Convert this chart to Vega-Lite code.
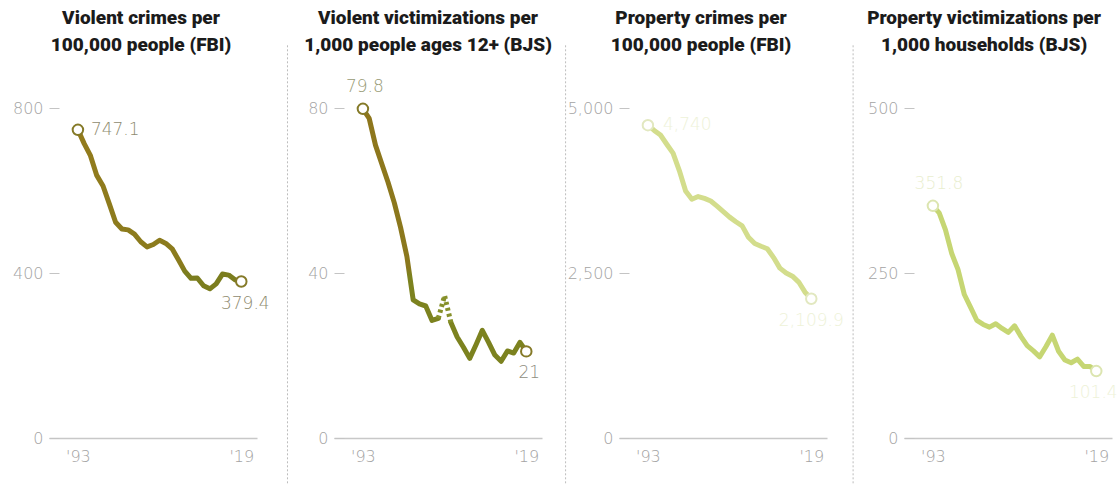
{
  "$schema": "https://vega.github.io/schema/vega-lite/v6.json",
  "background": "white",
  "padding": {"left": 12, "top": 8, "right": 0, "bottom": 0},
  "bounds": "flush",
  "spacing": 77,
  "config": {
    "view": {"stroke": null},
    "axis": {"grid": false, "labelFont": "DejaVu Sans", "labelFontWeight": 200, "labelFontSize": 16, "labelColor": "#a3a3a3", "title": null},
    "title": {"font": "Roboto", "fontSize": 19, "fontWeight": 900, "color": "#1b1b1b", "lineHeight": 27, "anchor": "middle", "frame": "group", "offset": -10},
    "text": {"font": "DejaVu Sans", "fontWeight": 200, "fontSize": 17}
  },
  "datasets": {
    "p1": [
      {"kind": "sep", "year": 2000, "value": 952, "value2": -112},
      {"kind": "line", "part": "a", "year": 1993, "value": 747.1, "label": "747.1", "end": "start"},
      {"kind": "line", "part": "a", "year": 1994, "value": 713.6},
      {"kind": "line", "part": "a", "year": 1995, "value": 684.5},
      {"kind": "line", "part": "a", "year": 1996, "value": 636.6},
      {"kind": "line", "part": "a", "year": 1997, "value": 611.0},
      {"kind": "line", "part": "a", "year": 1998, "value": 567.6},
      {"kind": "line", "part": "a", "year": 1999, "value": 523.0},
      {"kind": "line", "part": "a", "year": 2000, "value": 506.5},
      {"kind": "line", "part": "a", "year": 2001, "value": 504.5},
      {"kind": "line", "part": "a", "year": 2002, "value": 494.4},
      {"kind": "line", "part": "a", "year": 2003, "value": 475.8},
      {"kind": "line", "part": "a", "year": 2004, "value": 463.2},
      {"kind": "line", "part": "a", "year": 2005, "value": 469.0},
      {"kind": "line", "part": "a", "year": 2006, "value": 479.3},
      {"kind": "line", "part": "a", "year": 2007, "value": 471.8},
      {"kind": "line", "part": "a", "year": 2008, "value": 458.6},
      {"kind": "line", "part": "a", "year": 2009, "value": 431.9},
      {"kind": "line", "part": "a", "year": 2010, "value": 404.5},
      {"kind": "line", "part": "a", "year": 2011, "value": 387.1},
      {"kind": "line", "part": "a", "year": 2012, "value": 387.8},
      {"kind": "line", "part": "a", "year": 2013, "value": 369.1},
      {"kind": "line", "part": "a", "year": 2014, "value": 361.6},
      {"kind": "line", "part": "a", "year": 2015, "value": 373.7},
      {"kind": "line", "part": "a", "year": 2016, "value": 397.5},
      {"kind": "line", "part": "a", "year": 2017, "value": 394.9},
      {"kind": "line", "part": "a", "year": 2018, "value": 383.4},
      {"kind": "line", "part": "a", "year": 2019, "value": 379.4, "label": "379.4", "end": "end"}
    ],
    "p2": [
      {"kind": "sep", "year": 1981, "value": 95.2, "value2": -11.2},
      {"kind": "line", "part": "a", "year": 1993, "value": 79.8, "label": "79.8", "end": "start"},
      {"kind": "line", "part": "a", "year": 1994, "value": 77.5},
      {"kind": "line", "part": "a", "year": 1995, "value": 71.0},
      {"kind": "line", "part": "a", "year": 1996, "value": 66.5},
      {"kind": "line", "part": "a", "year": 1997, "value": 62.0},
      {"kind": "line", "part": "a", "year": 1998, "value": 57.0},
      {"kind": "line", "part": "a", "year": 1999, "value": 51.0},
      {"kind": "line", "part": "a", "year": 2000, "value": 44.0},
      {"kind": "line", "part": "a", "year": 2001, "value": 33.5},
      {"kind": "line", "part": "a", "year": 2002, "value": 32.5},
      {"kind": "line", "part": "a", "year": 2003, "value": 32.0},
      {"kind": "line", "part": "a", "year": 2004, "value": 28.5},
      {"kind": "line", "part": "a", "year": 2005, "value": 29.0},
      {"kind": "dash", "part": "b", "year": 2005, "value": 29.0},
      {"kind": "dash", "part": "b", "year": 2006, "value": 34.5},
      {"kind": "dash", "part": "b", "year": 2007, "value": 28.0},
      {"kind": "line", "part": "c", "year": 2007, "value": 28.0},
      {"kind": "line", "part": "c", "year": 2008, "value": 24.5},
      {"kind": "line", "part": "c", "year": 2009, "value": 22.0},
      {"kind": "line", "part": "c", "year": 2010, "value": 19.3},
      {"kind": "line", "part": "c", "year": 2011, "value": 22.6},
      {"kind": "line", "part": "c", "year": 2012, "value": 26.1},
      {"kind": "line", "part": "c", "year": 2013, "value": 23.2},
      {"kind": "line", "part": "c", "year": 2014, "value": 20.1},
      {"kind": "line", "part": "c", "year": 2015, "value": 18.6},
      {"kind": "line", "part": "c", "year": 2016, "value": 21.1},
      {"kind": "line", "part": "c", "year": 2017, "value": 20.6},
      {"kind": "line", "part": "c", "year": 2018, "value": 23.2},
      {"kind": "line", "part": "c", "year": 2019, "value": 21.0, "label": "21", "end": "end"}
    ],
    "p3": [
      {"kind": "sep", "year": 1979.9, "value": 5950, "value2": -697},
      {"kind": "line", "part": "a", "year": 1993, "value": 4740.0, "label": "4,740", "end": "start"},
      {"kind": "line", "part": "a", "year": 1994, "value": 4660.2},
      {"kind": "line", "part": "a", "year": 1995, "value": 4590.5},
      {"kind": "line", "part": "a", "year": 1996, "value": 4451.0},
      {"kind": "line", "part": "a", "year": 1997, "value": 4316.3},
      {"kind": "line", "part": "a", "year": 1998, "value": 4052.5},
      {"kind": "line", "part": "a", "year": 1999, "value": 3743.6},
      {"kind": "line", "part": "a", "year": 2000, "value": 3618.3},
      {"kind": "line", "part": "a", "year": 2001, "value": 3658.1},
      {"kind": "line", "part": "a", "year": 2002, "value": 3630.6},
      {"kind": "line", "part": "a", "year": 2003, "value": 3591.2},
      {"kind": "line", "part": "a", "year": 2004, "value": 3514.1},
      {"kind": "line", "part": "a", "year": 2005, "value": 3431.5},
      {"kind": "line", "part": "a", "year": 2006, "value": 3346.6},
      {"kind": "line", "part": "a", "year": 2007, "value": 3276.4},
      {"kind": "line", "part": "a", "year": 2008, "value": 3214.6},
      {"kind": "line", "part": "a", "year": 2009, "value": 3041.3},
      {"kind": "line", "part": "a", "year": 2010, "value": 2945.9},
      {"kind": "line", "part": "a", "year": 2011, "value": 2905.4},
      {"kind": "line", "part": "a", "year": 2012, "value": 2868.0},
      {"kind": "line", "part": "a", "year": 2013, "value": 2733.6},
      {"kind": "line", "part": "a", "year": 2014, "value": 2574.1},
      {"kind": "line", "part": "a", "year": 2015, "value": 2500.5},
      {"kind": "line", "part": "a", "year": 2016, "value": 2451.6},
      {"kind": "line", "part": "a", "year": 2017, "value": 2362.9},
      {"kind": "line", "part": "a", "year": 2018, "value": 2209.8},
      {"kind": "line", "part": "a", "year": 2019, "value": 2109.9, "label": "2,109.9", "end": "end"}
    ],
    "p4": [
      {"kind": "sep", "year": 1980.3, "value": 595, "value2": -69.7},
      {"kind": "line", "part": "a", "year": 1993, "value": 351.8, "label": "351.8", "end": "start"},
      {"kind": "line", "part": "a", "year": 1994, "value": 341.2},
      {"kind": "line", "part": "a", "year": 1995, "value": 315.5},
      {"kind": "line", "part": "a", "year": 1996, "value": 279.5},
      {"kind": "line", "part": "a", "year": 1997, "value": 255.0},
      {"kind": "line", "part": "a", "year": 1998, "value": 217.4},
      {"kind": "line", "part": "a", "year": 1999, "value": 198.0},
      {"kind": "line", "part": "a", "year": 2000, "value": 178.1},
      {"kind": "line", "part": "a", "year": 2001, "value": 172.0},
      {"kind": "line", "part": "a", "year": 2002, "value": 168.0},
      {"kind": "line", "part": "a", "year": 2003, "value": 173.0},
      {"kind": "line", "part": "a", "year": 2004, "value": 166.0},
      {"kind": "line", "part": "a", "year": 2005, "value": 160.0},
      {"kind": "line", "part": "a", "year": 2006, "value": 170.0},
      {"kind": "line", "part": "a", "year": 2007, "value": 154.0},
      {"kind": "line", "part": "a", "year": 2008, "value": 140.0},
      {"kind": "line", "part": "a", "year": 2009, "value": 132.0},
      {"kind": "line", "part": "a", "year": 2010, "value": 123.0},
      {"kind": "line", "part": "a", "year": 2011, "value": 138.7},
      {"kind": "line", "part": "a", "year": 2012, "value": 155.8},
      {"kind": "line", "part": "a", "year": 2013, "value": 131.4},
      {"kind": "line", "part": "a", "year": 2014, "value": 118.1},
      {"kind": "line", "part": "a", "year": 2015, "value": 114.0},
      {"kind": "line", "part": "a", "year": 2016, "value": 119.4},
      {"kind": "line", "part": "a", "year": 2017, "value": 108.4},
      {"kind": "line", "part": "a", "year": 2018, "value": 108.2},
      {"kind": "line", "part": "a", "year": 2019, "value": 101.4, "label": "101.4", "end": "end"}
    ]
  },
  "hconcat": [
    {
      "title": {"text": ["Violent crimes per", "100,000 people (FBI)"], "dx": -12},
      "width": 208, "height": 330,
      "data": {"name": "p1"},
      "encoding": {
        "x": {"field": "year", "type": "quantitative", "scale": {"domain": [1988.4, 2021.5], "nice": false, "zero": false},
              "axis": {"values": [1993, 2019], "labelExpr": "datum.value == 1993 ? \"'93\" : \"'19\"", "ticks": false, "domain": true, "domainColor": "#c8c8c8", "domainWidth": 1.5, "labelPadding": 10, "labelFlush": false}},
        "y": {"field": "value", "type": "quantitative", "scale": {"domain": [0, 800], "nice": false},
              "axis": {"values": [0, 400, 800], "format": ",d", "domain": false, "tickSize": 10, "tickColor": "#c4c4c4", "offset": -10, "labelPadding": 6}}
      },
      "layer": [
        {"transform": [{"filter": "datum.kind == 'sep'"}],
         "mark": {"type": "rule", "clip": false, "strokeOpacity": 0, "color": "#ffffff", "strokeWidth": 1},
         "encoding": {"y2": {"field": "value2"}}},
        {"transform": [{"filter": "datum.kind == 'line'"}],
         "mark": {"type": "line", "strokeWidth": 5, "strokeJoin": "round", "strokeCap": "round",
                  "color": {"gradient": "linear", "x1": 0, "y1": 0, "x2": 0, "y2": 1, "stops": [{"offset": 0, "color": "#937b1c"}, {"offset": 0.85, "color": "#8a7b1d"}, {"offset": 0.9, "color": "#7b7d1e"}, {"offset": 1, "color": "#7b7d1e"}]}},
         "encoding": {"detail": {"field": "part"}}},
        {"transform": [{"filter": "datum.label != null"}],
         "mark": {"type": "point", "filled": true, "fill": "white", "stroke": "#857a28", "strokeWidth": 2, "size": 110, "opacity": 1}},
        {"transform": [{"filter": "datum.end == 'start'"}],
         "mark": {"type": "text", "align": "left", "baseline": "middle", "dx": 13, "dy": 0, "color": "#8e8a6e"},
         "encoding": {"text": {"field": "label"}}},
        {"transform": [{"filter": "datum.end == 'end'"}],
         "mark": {"type": "text", "align": "center", "baseline": "middle", "dx": 4, "dy": 23, "color": "#8e8a6e"},
         "encoding": {"text": {"field": "label"}}}
      ]
    },
    {
      "title": {"text": ["Violent victimizations per", "1,000 people ages 12+ (BJS)"], "dx": -10},
      "width": 208, "height": 330,
      "data": {"name": "p2"},
      "encoding": {
        "x": {"field": "year", "type": "quantitative", "scale": {"domain": [1988.4, 2021.5], "nice": false, "zero": false},
              "axis": {"values": [1993, 2019], "labelExpr": "datum.value == 1993 ? \"'93\" : \"'19\"", "ticks": false, "domain": true, "domainColor": "#c8c8c8", "domainWidth": 1.5, "labelPadding": 10, "labelFlush": false}},
        "y": {"field": "value", "type": "quantitative", "scale": {"domain": [0, 80], "nice": false},
              "axis": {"values": [0, 40, 80], "format": ",d", "domain": false, "tickSize": 10, "tickColor": "#c4c4c4", "offset": -10, "labelPadding": 6}}
      },
      "layer": [
        {"transform": [{"filter": "datum.kind == 'sep'"}],
         "mark": {"type": "rule", "clip": false, "strokeDash": [2, 2], "color": "#bdbdbd", "strokeWidth": 1},
         "encoding": {"y2": {"field": "value2"}}},
        {"transform": [{"filter": "datum.kind == 'line' && datum.part == 'a'"}],
         "mark": {"type": "line", "strokeWidth": 5, "strokeJoin": "round", "strokeCap": "round",
                  "color": {"gradient": "linear", "x1": 0, "y1": 0, "x2": 0, "y2": 1, "stops": [{"offset": 0, "color": "#8e761c"}, {"offset": 0.75, "color": "#8a781d"}, {"offset": 0.79, "color": "#7c821f"}, {"offset": 1, "color": "#7c821f"}]}}},
        {"transform": [{"filter": "datum.kind == 'line' && datum.part == 'c'"}],
         "mark": {"type": "line", "strokeWidth": 5, "strokeJoin": "round", "strokeCap": "round", "color": "#7c821f"}},
        {"transform": [{"filter": "datum.kind == 'dash'"}],
         "mark": {"type": "line", "strokeWidth": 5, "strokeDash": [3, 3], "color": "#86902a"}},
        {"transform": [{"filter": "datum.label != null"}],
         "mark": {"type": "point", "filled": true, "fill": "white", "stroke": "#857a28", "strokeWidth": 2, "size": 110, "opacity": 1}},
        {"transform": [{"filter": "datum.end == 'start'"}],
         "mark": {"type": "text", "align": "center", "baseline": "middle", "dx": 2, "dy": -22, "color": "#979a74"},
         "encoding": {"text": {"field": "label"}}},
        {"transform": [{"filter": "datum.end == 'end'"}],
         "mark": {"type": "text", "align": "center", "baseline": "middle", "dx": 3, "dy": 22, "color": "#8e8d80"},
         "encoding": {"text": {"field": "label"}}}
      ]
    },
    {
      "title": {"text": ["Property crimes per", "100,000 people (FBI)"], "dx": -22},
      "width": 208, "height": 330,
      "data": {"name": "p3"},
      "encoding": {
        "x": {"field": "year", "type": "quantitative", "scale": {"domain": [1988.4, 2021.5], "nice": false, "zero": false},
              "axis": {"values": [1993, 2019], "labelExpr": "datum.value == 1993 ? \"'93\" : \"'19\"", "ticks": false, "domain": true, "domainColor": "#c8c8c8", "domainWidth": 1.5, "labelPadding": 10, "labelFlush": false}},
        "y": {"field": "value", "type": "quantitative", "scale": {"domain": [0, 5000], "nice": false},
              "axis": {"values": [0, 2500, 5000], "format": ",d", "domain": false, "tickSize": 10, "tickColor": "#c4c4c4", "offset": -10, "labelPadding": 6}}
      },
      "layer": [
        {"transform": [{"filter": "datum.kind == 'sep'"}],
         "mark": {"type": "rule", "clip": false, "strokeDash": [2, 2], "color": "#bdbdbd", "strokeWidth": 1},
         "encoding": {"y2": {"field": "value2"}}},
        {"transform": [{"filter": "datum.kind == 'line'"}],
         "mark": {"type": "line", "strokeWidth": 5, "strokeJoin": "round", "strokeCap": "round", "color": "#d3dd8c"}},
        {"transform": [{"filter": "datum.label != null"}],
         "mark": {"type": "point", "filled": true, "fill": "white", "stroke": "#e2e8c0", "strokeWidth": 2, "size": 110, "opacity": 1}},
        {"transform": [{"filter": "datum.end == 'start'"}],
         "mark": {"type": "text", "align": "left", "baseline": "middle", "dx": 15, "dy": 0, "color": "#eef2d8"},
         "encoding": {"text": {"field": "label"}}},
        {"transform": [{"filter": "datum.end == 'end'"}],
         "mark": {"type": "text", "align": "center", "baseline": "middle", "dx": 0, "dy": 22, "color": "#eef2d8"},
         "encoding": {"text": {"field": "label"}}}
      ]
    },
    {
      "title": {"text": ["Property victimizations per", "1,000 households (BJS)"], "dx": -24},
      "width": 208, "height": 330,
      "data": {"name": "p4"},
      "encoding": {
        "x": {"field": "year", "type": "quantitative", "scale": {"domain": [1988.4, 2021.5], "nice": false, "zero": false},
              "axis": {"values": [1993, 2019], "labelExpr": "datum.value == 1993 ? \"'93\" : \"'19\"", "ticks": false, "domain": true, "domainColor": "#c8c8c8", "domainWidth": 1.5, "labelPadding": 10, "labelFlush": false}},
        "y": {"field": "value", "type": "quantitative", "scale": {"domain": [0, 500], "nice": false},
              "axis": {"values": [0, 250, 500], "format": ",d", "domain": false, "tickSize": 10, "tickColor": "#c4c4c4", "offset": -10, "labelPadding": 6}}
      },
      "layer": [
        {"transform": [{"filter": "datum.kind == 'sep'"}],
         "mark": {"type": "rule", "clip": false, "strokeDash": [2, 2], "color": "#bdbdbd", "strokeWidth": 1},
         "encoding": {"y2": {"field": "value2"}}},
        {"transform": [{"filter": "datum.kind == 'line'"}],
         "mark": {"type": "line", "strokeWidth": 5, "strokeJoin": "round", "strokeCap": "round", "color": "#c6d673"}},
        {"transform": [{"filter": "datum.label != null"}],
         "mark": {"type": "point", "filled": true, "fill": "white", "stroke": "#dce5b0", "strokeWidth": 2, "size": 110, "opacity": 1}},
        {"transform": [{"filter": "datum.end == 'start'"}],
         "mark": {"type": "text", "align": "center", "baseline": "middle", "dx": 6, "dy": -22, "color": "#e9eecf"},
         "encoding": {"text": {"field": "label"}}},
        {"transform": [{"filter": "datum.end == 'end'"}],
         "mark": {"type": "text", "align": "center", "baseline": "middle", "dx": -3, "dy": 22, "color": "#eef2d8"},
         "encoding": {"text": {"field": "label"}}}
      ]
    }
  ]
}
